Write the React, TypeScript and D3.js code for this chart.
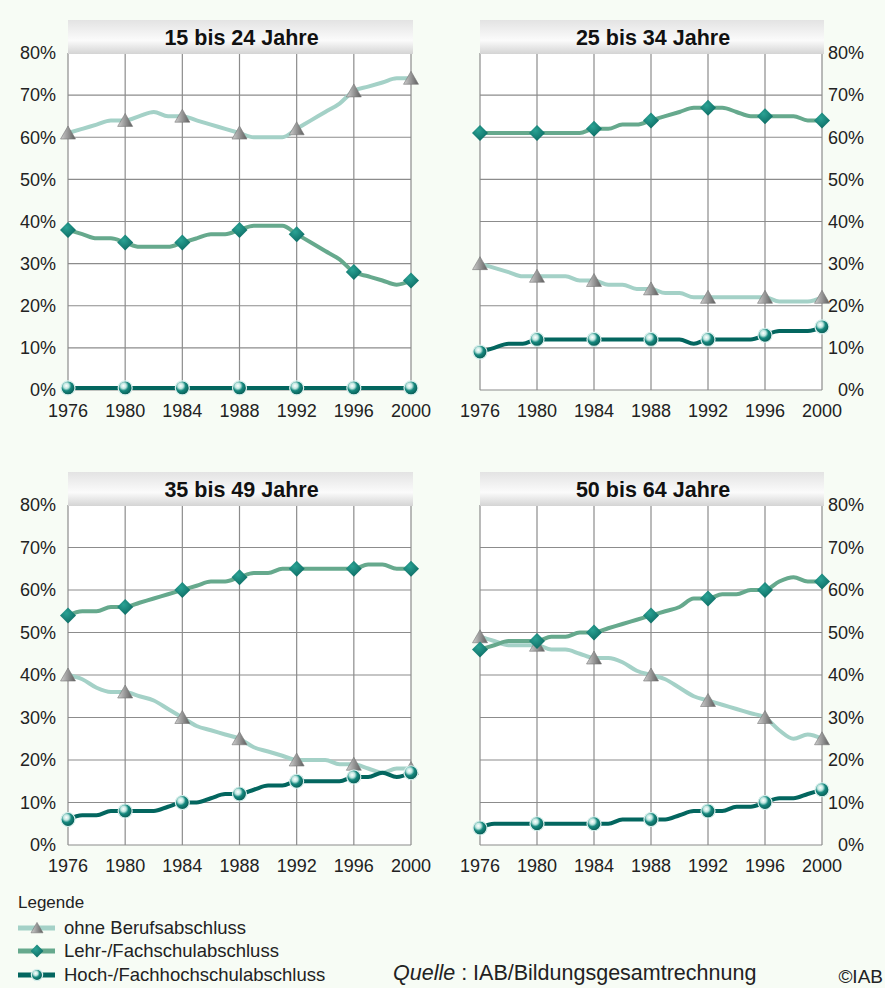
import React from 'react';
import * as d3 from 'd3';

// Jahre 1976 bis 2000, Marker alle vier Jahre
const years = [
  1976, 1977, 1978, 1979, 1980, 1981, 1982, 1983, 1984, 1985, 1986, 1987, 1988,
  1989, 1990, 1991, 1992, 1993, 1994, 1995, 1996, 1997, 1998, 1999, 2000,
];
const tickYears = [1976, 1980, 1984, 1988, 1992, 1996, 2000];
const tickPercents = [0, 10, 20, 30, 40, 50, 60, 70, 80];

const seriesNames = ['ohne Berufsabschluss', 'Lehr-/Fachschulabschluss', 'Hoch-/Fachhochschulabschluss'];
const panelTitles = ['15 bis 24 Jahre', '25 bis 34 Jahre', '35 bis 49 Jahre', '50 bis 64 Jahre'];

// 15 bis 24 Jahre
const ohne1524 = [61, 62, 63, 64, 64, 65, 66, 65, 65, 64, 63, 62, 61, 60, 60, 60, 62, 64, 66, 68, 71, 72, 73, 74, 74];
const lehr1524 = [38, 37, 36, 36, 35, 34, 34, 34, 35, 36, 37, 37, 38, 39, 39, 39, 37, 35, 33, 31, 28, 27, 26, 25, 26];
const hoch1524 = [0.5, 0.5, 0.5, 0.5, 0.5, 0.5, 0.5, 0.5, 0.5, 0.5, 0.5, 0.5, 0.5, 0.5, 0.5, 0.5, 0.5, 0.5, 0.5, 0.5, 0.5, 0.5, 0.5, 0.5, 0.5];

// 25 bis 34 Jahre
const ohne2534 = [30, 29, 28, 27, 27, 27, 27, 26, 26, 25, 25, 24, 24, 23, 23, 22, 22, 22, 22, 22, 22, 21, 21, 21, 22];
const lehr2534 = [61, 61, 61, 61, 61, 61, 61, 61, 62, 62, 63, 63, 64, 65, 66, 67, 67, 67, 66, 65, 65, 65, 65, 64, 64];
const hoch2534 = [9, 10, 11, 11, 12, 12, 12, 12, 12, 12, 12, 12, 12, 12, 12, 11, 12, 12, 12, 12, 13, 14, 14, 14, 15];

// 35 bis 49 Jahre
const ohne3549 = [40, 39, 37, 36, 36, 35, 34, 32, 30, 28, 27, 26, 25, 23, 22, 21, 20, 20, 20, 19, 19, 18, 17, 18, 18];
const lehr3549 = [54, 55, 55, 56, 56, 57, 58, 59, 60, 61, 62, 62, 63, 64, 64, 65, 65, 65, 65, 65, 65, 66, 66, 65, 65];
const hoch3549 = [6, 7, 7, 8, 8, 8, 8, 9, 10, 10, 11, 12, 12, 13, 14, 14, 15, 15, 15, 15, 16, 16, 17, 16, 17];

// 50 bis 64 Jahre
const ohne5064 = [49, 48, 47, 47, 47, 46, 46, 45, 44, 44, 43, 41, 40, 39, 37, 35, 34, 33, 32, 31, 30, 27, 25, 26, 25];
const lehr5064 = [46, 47, 48, 48, 48, 49, 49, 50, 50, 51, 52, 53, 54, 55, 56, 58, 58, 59, 59, 60, 60, 62, 63, 62, 62];
const hoch5064 = [4, 5, 5, 5, 5, 5, 5, 5, 5, 5, 6, 6, 6, 6, 7, 8, 8, 8, 9, 9, 10, 11, 11, 12, 13];

const panelSeries = [
  [ohne1524, lehr1524, hoch1524],
  [ohne2534, lehr2534, hoch2534],
  [ohne3549, lehr3549, hoch3549],
  [ohne5064, lehr5064, hoch5064],
];

const lineColors = ['#a4d1c7', '#66a98d', '#03665f'];
const FONT = '"Liberation Sans", Arial, sans-serif';

const layout = [
  { x0: 68, x1: 411, yTop: 53, yBottom: 390, titleY: 20, axis: 'left' },
  { x0: 480, x1: 822, yTop: 53, yBottom: 390, titleY: 20, axis: 'right' },
  { x0: 68, x1: 411, yTop: 505, yBottom: 845, titleY: 472, axis: 'left' },
  { x0: 480, x1: 822, yTop: 505, yBottom: 845, titleY: 472, axis: 'right' },
];

const Marker = ({ kind, x, y, s = 1 }) => {
  if (kind === 0) {
    const p = [[0, -7], [7.5, 6], [-7.5, 6]].map(([a, b]) => `${x + a * s},${y + b * s}`).join(' ');
    return <polygon points={p} fill="url(#triGrad)" stroke="#777" strokeWidth={0.6} />;
  }
  if (kind === 1) {
    const r = 8 * s;
    const p = `${x},${y - r} ${x + r},${y} ${x},${y + r} ${x - r},${y}`;
    return <polygon points={p} fill="url(#diaGrad)" />;
  }
  return <circle cx={x} cy={y} r={7 * s} fill="url(#cirGrad)" stroke="#d8efec" strokeWidth={1.2} />;
};

const Panel = ({ idx }) => {
  const L = layout[idx];
  const x = d3.scaleLinear().domain([1976, 2000]).range([L.x0, L.x1]);
  const y = d3.scaleLinear().domain([0, 80]).range([L.yBottom, L.yTop]);
  const line = d3.line<number>()
    .x((d, i) => x(years[i]))
    .y((d) => y(d))
    .curve(d3.curveMonotoneX);
  const series = panelSeries[idx];

  return (
    <g>
      <rect x={L.x0} y={L.yTop} width={L.x1 - L.x0} height={L.yBottom - L.yTop} fill="#ffffff" />
      {tickPercents.map((p) => (
        <line key={'h' + p} x1={L.x0} x2={L.x1} y1={y(p)} y2={y(p)} stroke="#8c8c8c" strokeWidth={1.2} />
      ))}
      {tickYears.map((yr) => (
        <line key={'v' + yr} x1={x(yr)} x2={x(yr)} y1={L.yTop} y2={L.yBottom} stroke="#8c8c8c" strokeWidth={1.2} />
      ))}
      {series.map((vals, si) => (
        <path key={'l' + si} d={line(vals)} fill="none" stroke={lineColors[si]}
          strokeWidth={4} strokeLinejoin="round" strokeLinecap="round" />
      ))}
      {series.map((vals, si) =>
        tickYears.map((yr) => (
          <Marker key={'m' + si + yr} kind={si} x={x(yr)} y={y(vals[years.indexOf(yr)])} />
        ))
      )}
      <rect x={L.x0} y={L.titleY} width={L.x1 - L.x0 + 2} height={L.yTop - L.titleY + 1} fill="url(#titleGrad)" />
      <text x={(L.x0 + L.x1) / 2 + 2} y={L.titleY + 17} dy="0.35em" textAnchor="middle"
        fontFamily={FONT} fontWeight="bold" fontSize={21.5} fill="#111">{panelTitles[idx]}</text>
      {tickPercents.map((p) => (
        <text key={'t' + p} x={L.axis === 'left' ? 56 : 864} y={y(p)} dy="0.35em"
          textAnchor="end" fontFamily={FONT} fontSize={18} fill="#222">{p}%</text>
      ))}
      {tickYears.map((yr) => (
        <text key={'x' + yr} x={x(yr)} y={L.yBottom + 21} dy="0.35em" textAnchor="middle"
          fontFamily={FONT} fontSize={18} fill="#222">{yr}</text>
      ))}
    </g>
  );
};

const App = () => {
  const legendY = [928, 951, 975];
  return (
    <svg width={885} height={988} style={{ position: 'absolute', left: 0, top: 0 }}>
      <defs>
        <linearGradient id="titleGrad" x1="0" y1="0" x2="0" y2="1">
          <stop offset="0" stopColor="#e3e3e3" />
          <stop offset="0.6" stopColor="#fbfbfb" />
          <stop offset="1" stopColor="#d4d4d4" />
        </linearGradient>
        <linearGradient id="triGrad" x1="0" y1="0" x2="1" y2="0">
          <stop offset="0" stopColor="#cfcfcf" />
          <stop offset="1" stopColor="#5e5e5e" />
        </linearGradient>
        <radialGradient id="diaGrad" cx="0.4" cy="0.35" r="0.7">
          <stop offset="0" stopColor="#2aa294" />
          <stop offset="1" stopColor="#0b6a62" />
        </radialGradient>
        <radialGradient id="cirGrad" cx="0.38" cy="0.35" r="0.65">
          <stop offset="0" stopColor="#ffffff" />
          <stop offset="0.3" stopColor="#bfe6e0" />
          <stop offset="0.55" stopColor="#16887e" />
          <stop offset="1" stopColor="#075c55" />
        </radialGradient>
      </defs>
      <rect width={885} height={988} fill="#f7fcf5" />
      {panelTitles.map((t, i) => <Panel key={t} idx={i} />)}

      <text x={18} y={902} dy="0.35em" fontFamily={FONT} fontSize={17} fill="#222">Legende</text>
      {seriesNames.map((name, si) => (
        <g key={name}>
          <line x1={18} x2={55} y1={legendY[si]} y2={legendY[si]} stroke={lineColors[si]} strokeWidth={5} />
          <Marker kind={si} x={37} y={legendY[si]} s={0.8} />
          <text x={64} y={legendY[si]} dy="0.35em" fontFamily={FONT} fontSize={18.5} fill="#222">{name}</text>
        </g>
      ))}
      <text x={393} y={972} dy="0.35em" fontFamily={FONT} fontSize={21.5} fill="#222">
        <tspan fontStyle="italic">Quelle</tspan> : IAB/Bildungsgesamtrechnung
      </text>
      <text x={883} y={976} dy="0.35em" textAnchor="end" fontFamily={FONT} fontSize={19} fill="#222">©IAB</text>
    </svg>
  );
};

export default App;
